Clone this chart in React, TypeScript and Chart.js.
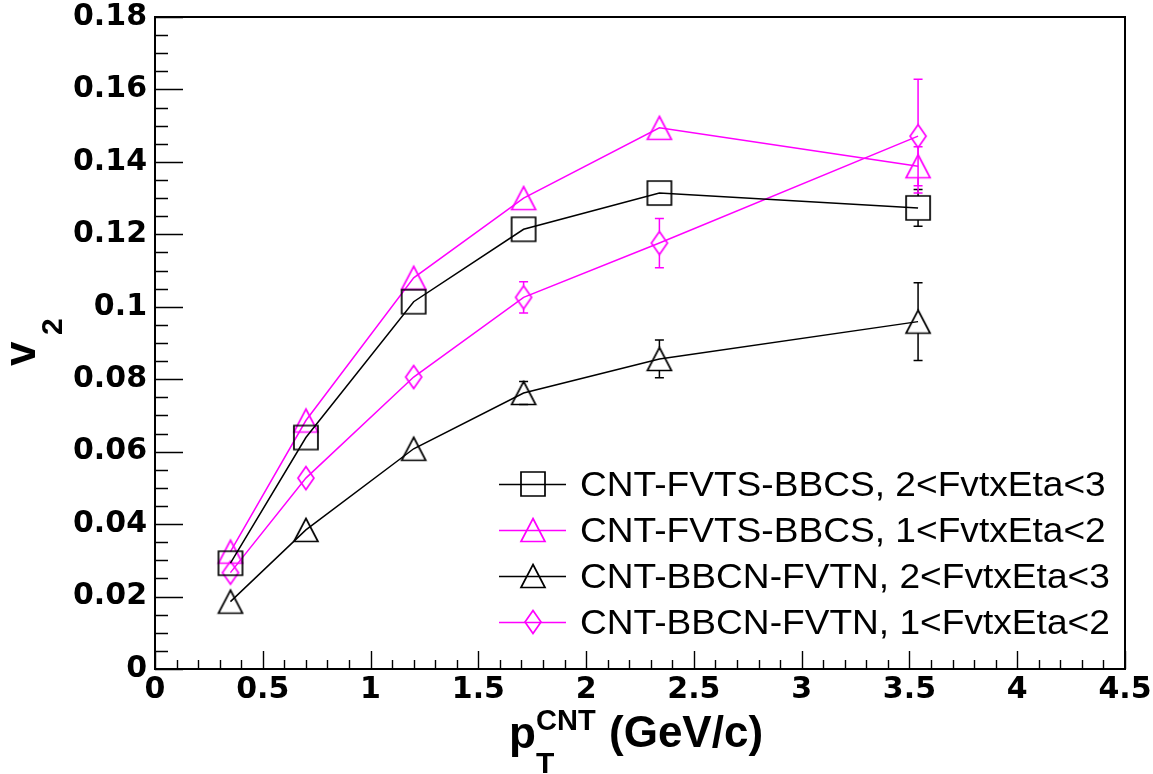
import React, { useEffect, useRef } from "react";
import { Chart, registerables } from "chart.js";

Chart.register(...registerables);

// ---- data ----
const ptCNT = [0.35, 0.7, 1.2, 1.71, 2.34, 3.54];

const seriesLabels = [
  "CNT-FVTS-BBCS, 2<FvtxEta<3",
  "CNT-FVTS-BBCS, 1<FvtxEta<2",
  "CNT-BBCN-FVTN, 2<FvtxEta<3",
  "CNT-BBCN-FVTN, 1<FvtxEta<2",
];

const v2FvtsEta23 = [0.0292, 0.0639, 0.1014, 0.1214, 0.1314, 0.1273];
const errFvtsEta23 = [0.001, 0.0015, 0.002, 0.0025, 0.003, 0.0051];

const v2FvtsEta12 = [0.0324, 0.0686, 0.108, 0.13, 0.1494, 0.1388];
const errFvtsEta12 = [0.001, 0.0015, 0.002, 0.0025, 0.003, 0.0054];

const v2BbcnEta23 = [0.0186, 0.0384, 0.0608, 0.0762, 0.0856, 0.0959];
const errBbcnEta23 = [0.001, 0.0015, 0.0022, 0.0032, 0.0052, 0.0107];

const v2BbcnEta12 = [0.0266, 0.0527, 0.0806, 0.1026, 0.1176, 0.1471];
const errBbcnEta12 = [0.0012, 0.0018, 0.0028, 0.0043, 0.0068, 0.0157];

const seriesValues = [v2FvtsEta23, v2FvtsEta12, v2BbcnEta23, v2BbcnEta12];
const seriesErrors = [errFvtsEta23, errFvtsEta12, errBbcnEta23, errBbcnEta12];
const seriesColors = ["#000000", "#ff00ff", "#000000", "#ff00ff"];
const seriesMarkers = ["square", "triangle", "triangle", "diamond"];

const xMin = 0;
const xMax = 4.5;
const xStep = 0.5;
const yMin = 0;
const yMax = 0.18;
const yStep = 0.02;

// ---- helpers ----
function makeMarker(kind: string, color: string): HTMLCanvasElement {
  const c = document.createElement("canvas");
  const w = kind === "diamond" ? 20 : 28;
  const h = 28;
  c.width = w;
  c.height = h;
  const ctx = c.getContext("2d")!;
  ctx.strokeStyle = color;
  ctx.lineWidth = 1.7;
  ctx.lineJoin = "miter";
  ctx.beginPath();
  if (kind === "square") {
    ctx.rect(2, 2, 24, 24);
  } else if (kind === "triangle") {
    ctx.moveTo(14, 2.5);
    ctx.lineTo(26, 25.5);
    ctx.lineTo(2, 25.5);
    ctx.closePath();
  } else {
    ctx.moveTo(10, 2.5);
    ctx.lineTo(18, 14);
    ctx.lineTo(10, 25.5);
    ctx.lineTo(2, 14);
    ctx.closePath();
  }
  ctx.stroke();
  return c;
}

const markerHalf: Record<string, number> = { square: 12, triangle: 11.5, diamond: 11.5 };

function makeRootPlugin(markers: HTMLCanvasElement[]) {
  return {
    id: "rootStyle",
    afterDatasetsDraw(chart: any) {
      const ctx = chart.ctx as CanvasRenderingContext2D;
      const xs = chart.scales.x;
      const ys = chart.scales.y;
      ctx.save();
      ctx.lineWidth = 1.5;
      seriesValues.forEach((vals, si) => {
        const errs = seriesErrors[si];
        const half = markerHalf[seriesMarkers[si]];
        ctx.strokeStyle = seriesColors[si];
        vals.forEach((v, i) => {
          const px = xs.getPixelForValue(ptCNT[i]);
          const pc = ys.getPixelForValue(v);
          const pt = ys.getPixelForValue(v + errs[i]);
          const pb = ys.getPixelForValue(v - errs[i]);
          ctx.beginPath();
          if (pc - pt > half) {
            ctx.moveTo(px, pc - half);
            ctx.lineTo(px, pt);
            ctx.moveTo(px - 4.5, pt);
            ctx.lineTo(px + 4.5, pt);
          }
          if (pb - pc > half) {
            ctx.moveTo(px, pc + half);
            ctx.lineTo(px, pb);
            ctx.moveTo(px - 4.5, pb);
            ctx.lineTo(px + 4.5, pb);
          }
          ctx.stroke();
        });
      });
      ctx.restore();
    },
    afterDraw(chart: any) {
      const ctx = chart.ctx as CanvasRenderingContext2D;
      const a = chart.chartArea;
      const xs = chart.scales.x;
      const ys = chart.scales.y;
      ctx.save();
      // frame
      ctx.strokeStyle = "#000";
      ctx.lineWidth = 2;
      ctx.strokeRect(a.left, a.top, a.right - a.left, a.bottom - a.top);
      // ticks (inside)
      ctx.lineWidth = 1.4;
      ctx.beginPath();
      const nyMinor = Math.round((yMax - yMin) / (yStep / 4));
      for (let k = 0; k <= nyMinor; k++) {
        const v = yMin + (k * yStep) / 4;
        const py = Math.round(ys.getPixelForValue(v)) + 0.5;
        const len = k % 4 === 0 ? 28 : 13;
        ctx.moveTo(a.left, py);
        ctx.lineTo(a.left + len, py);
      }
      const nxMinor = Math.round((xMax - xMin) / (xStep / 5));
      for (let k = 0; k <= nxMinor; k++) {
        const v = xMin + (k * xStep) / 5;
        const px = Math.round(xs.getPixelForValue(v)) + 0.5;
        const len = k % 5 === 0 ? 18 : 9;
        ctx.moveTo(px, a.bottom);
        ctx.lineTo(px, a.bottom - len);
      }
      ctx.stroke();

      // axis titles
      ctx.fillStyle = "#000";
      ctx.textBaseline = "alphabetic";
      ctx.textAlign = "left";
      ctx.font = "bold 44px 'Liberation Sans', Arial, sans-serif";
      ctx.fillText("p", 509, 748);
      ctx.font = "bold 29px 'Liberation Sans', Arial, sans-serif";
      ctx.fillText("CNT", 536, 730);
      ctx.font = "bold 30px 'Liberation Sans', Arial, sans-serif";
      ctx.fillText("T", 536, 773);
      ctx.font = "bold 44px 'Liberation Sans', Arial, sans-serif";
      ctx.fillText("(GeV/c)", 609, 747);

      ctx.save();
      ctx.translate(35, 366);
      ctx.rotate(-Math.PI / 2);
      ctx.font = "bold 44px 'Liberation Sans', Arial, sans-serif";
      ctx.fillText("v", 0, 0);
      ctx.font = "bold 30px 'Liberation Sans', Arial, sans-serif";
      ctx.fillText("2", 31, 26.7);
      ctx.restore();

      // legend
      seriesLabels.forEach((label, i) => {
        const ly = 484 + 46 * i;
        ctx.strokeStyle = seriesColors[i];
        ctx.lineWidth = 1.5;
        ctx.beginPath();
        ctx.moveTo(499, ly + 0.5);
        ctx.lineTo(566, ly + 0.5);
        ctx.stroke();
        const m = markers[i];
        ctx.drawImage(m, Math.round(532.5 - m.width / 2), Math.round(ly - m.height / 2));
        ctx.save();
        ctx.fillStyle = "#000";
        ctx.font = "35px 'Liberation Sans', Arial, sans-serif";
        ctx.translate(580, ly + 12);
        ctx.scale(1.06, 1);
        ctx.fillText(label, 0, 0);
        ctx.restore();
      });
      ctx.restore();
    },
  };
}

export default function App() {
  const ref = useRef<HTMLCanvasElement | null>(null);

  useEffect(() => {
    if (!ref.current) return;
    const markers = seriesMarkers.map((k, i) => makeMarker(k, seriesColors[i]));
    const datasets = seriesValues.map((vals, i) => ({
      label: seriesLabels[i],
      data: vals.map((v, j) => ({ x: ptCNT[j], y: v })),
      borderColor: seriesColors[i],
      backgroundColor: "transparent",
      borderWidth: 1.5,
      pointStyle: markers[i],
      pointRadius: 12,
      pointBorderColor: seriesColors[i],
      pointBackgroundColor: "transparent",
      tension: 0,
      fill: false,
      showLine: true,
    }));
    const fmt = (v: any) => String(Number(Number(v).toFixed(3)));
    const chart: any = new Chart(ref.current, {
      type: "line",
      data: { datasets },
      options: {
        animation: false,
        responsive: false,
        devicePixelRatio: 1,
        layout: { padding: { left: 0, top: 17, right: 28, bottom: 0 } },
        plugins: { legend: { display: false }, tooltip: { enabled: false } },
        scales: {
          x: {
            type: "linear",
            min: xMin,
            max: xMax,
            grid: { display: false, drawTicks: false },
            border: { display: false },
            ticks: {
              stepSize: xStep,
              callback: fmt,
              color: "#000",
              padding: 3,
              maxRotation: 0,
              autoSkip: false,
              font: { family: "'DejaVu Sans'", weight: "bold", size: 30 },
            },
            afterFit: (s: any) => {
              s.height = 105;
              s.paddingLeft = 0;
              s.paddingRight = 0;
            },
          },
          y: {
            type: "linear",
            min: yMin,
            max: yMax,
            grid: { display: false, drawTicks: false },
            border: { display: false },
            ticks: {
              stepSize: yStep,
              callback: fmt,
              color: "#000",
              padding: 8,
              autoSkip: false,
              font: { family: "'DejaVu Sans'", weight: "bold", size: 30 },
            },
            afterFit: (s: any) => {
              s.width = 155;
              s.paddingTop = 0;
              s.paddingBottom = 0;
            },
          },
        },
      },
      plugins: [makeRootPlugin(markers)],
    } as any);
    return () => chart.destroy();
  }, []);

  return (
    <div style={{ position: "fixed", left: 0, top: 0, width: 1153, height: 774, background: "#fff" }}>
      <canvas ref={ref} width={1153} height={774} style={{ display: "block" }} />
    </div>
  );
}
